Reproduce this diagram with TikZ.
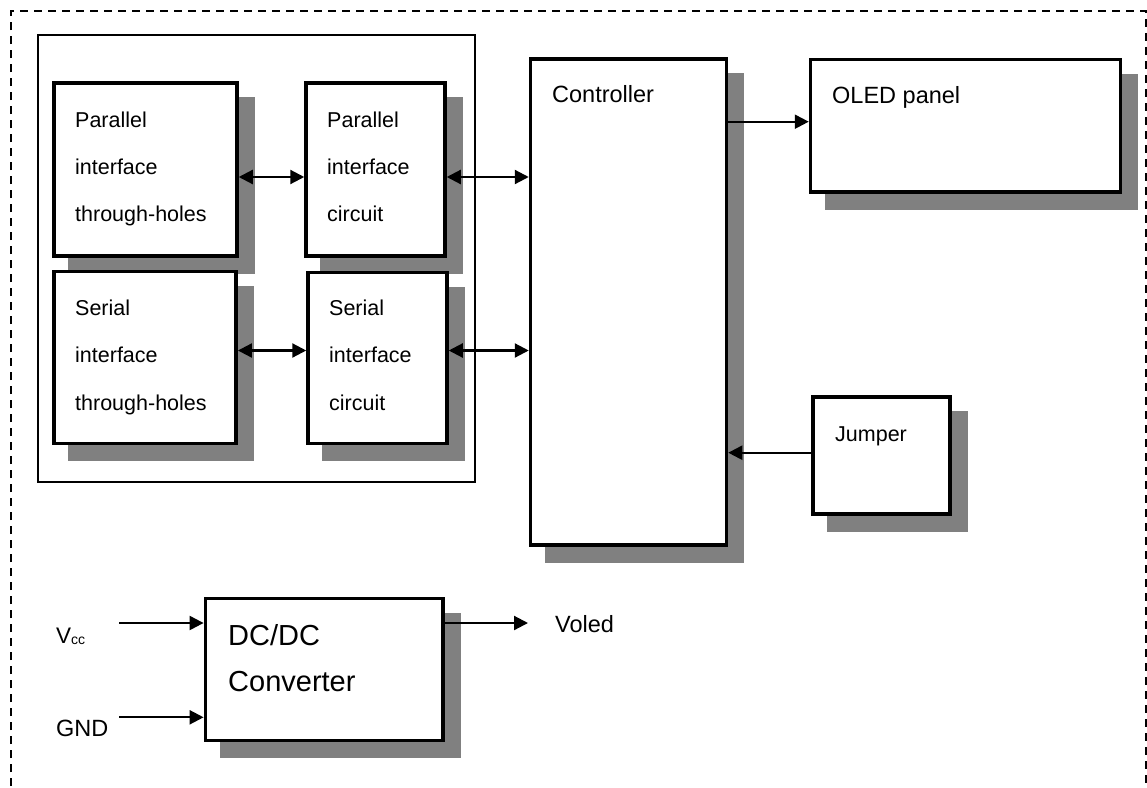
\documentclass[tikz,border=0pt]{standalone}
\usepackage{fontspec}
\setmainfont{Liberation Sans}
\usetikzlibrary{arrows.meta}
\definecolor{shadowgray}{RGB}{128,128,128}

\begin{document}
\begin{tikzpicture}[x=1pt,y=-1pt,
  blk/.style={draw, line width=3.5pt, fill=white, rectangle, inner sep=0pt,
    preaction={fill=shadowgray, draw=shadowgray, transform canvas={shift={(16,16)}}}},
  txt/.style={anchor=base west, inner sep=0pt, font=\fontsize{21.5}{21.5}\selectfont},
  bigtxt/.style={anchor=base west, inner sep=0pt, font=\fontsize{23.5}{23.5}\selectfont},
  hugetxt/.style={anchor=base west, inner sep=0pt, font=\fontsize{29}{29}\selectfont},
  link/.style={line width=2.2pt, -{Triangle[length=14pt,width=14pt]}},
  biglink/.style={line width=2.2pt, {Triangle[length=14pt,width=14pt]}-{Triangle[length=14pt,width=14pt]}},
  frameline/.style={line width=1.4pt},
  outline/.style={line width=1.5pt, dash pattern=on 8pt off 6pt}]

\useasboundingbox (0,0) rectangle (1147,787);

% dashed module outline (open at the bottom)
\draw[outline] (11,800) -- (11,11) -- (1146,11) -- (1146,800);

% interface group frame
\draw[frameline] (38,35) rectangle (475,482);

% interface blocks
\node[blk, minimum width=183pt, minimum height=173pt] (b1) at (145.5,169.5) {};
\node[blk, minimum width=139pt, minimum height=173pt] (b2) at (375.5,169.5) {};
\node[blk, minimum width=182pt, minimum height=172pt] (b3) at (145.2,357.6) {};
\node[blk, minimum width=139pt, minimum height=171pt] (b4) at (377.5,358) {};

% controller, panel, jumper, converter
\node[blk, minimum width=196pt, minimum height=486pt] (ctrl) at (628.5,302.2) {};
\node[blk, minimum width=310pt, minimum height=132.5pt] (oled) at (965.5,125.75) {};
\node[blk, minimum width=136.7pt, minimum height=116.7pt] (jump) at (881.4,455.4) {};
\node[blk, minimum width=237.7pt, minimum height=141.6pt] (dcdc) at (324.2,669.5) {};

% block texts
\node[txt] (b1a) at (75,127) {Parallel};
\node[txt] (b1b) at (75,174) {interface};
\node[txt] (b1c) at (75,221.5) {through-holes};

\node[txt] (b2a) at (327,127) {Parallel};
\node[txt] (b2b) at (327,174) {interface};
\node[txt] (b2c) at (327,221.5) {circuit};

\node[txt] (b3a) at (75,315) {Serial};
\node[txt] (b3b) at (75,362.5) {interface};
\node[txt] (b3c) at (75,410) {through-holes};

\node[txt] (b4a) at (329,315) {Serial};
\node[txt] (b4b) at (329,362.5) {interface};
\node[txt] (b4c) at (329,410) {circuit};

\node[bigtxt] (ctrlt) at (552,102.7) {Controller};
\node[bigtxt] (oledt) at (832,103.3) {OLED panel};
\node[txt] (jumpt) at (835,441.7) {Jumper};

\node[hugetxt] (dcdca) at (228,645) {DC/DC};
\node[hugetxt] (dcdcb) at (228,691.7) {Converter};

% supply labels
\node[anchor=base west, inner sep=0pt, font=\fontsize{22.5}{22.5}\selectfont] (vcc) at (56,643)
  {V\raisebox{-1pt}{\fontsize{14}{14}\selectfont cc}};
\node[bigtxt] (gnd) at (56,736) {GND};
\node[bigtxt] (voled) at (555,632) {Voled};

% connector rows
\coordinate (r1) at (0,177);
\coordinate (r2) at (0,350.5);
\coordinate (r3) at (0,121.7);
\coordinate (r4) at (0,452.7);
\coordinate (vin) at (119,623);
\coordinate (gin) at (119,717.3);
\coordinate (vout) at (528,623);

\draw[biglink] (b1.east |- r1) -- (b2.west |- r1);
\draw[biglink] (b2.east |- r1) -- (ctrl.west |- r1);
\draw[biglink] (b3.east |- r2) -- (b4.west |- r2);
\draw[biglink] (b4.east |- r2) -- (ctrl.west |- r2);
\draw[link] (ctrl.east |- r3) -- (oled.west |- r3);
\draw[link] (jump.west |- r4) -- (ctrl.east |- r4);
\draw[link] (vin) -- (dcdc.west |- vin);
\draw[link] (gin) -- (dcdc.west |- gin);
\draw[link] (dcdc.east |- vout) -- (vout);

\end{tikzpicture}
\end{document}
